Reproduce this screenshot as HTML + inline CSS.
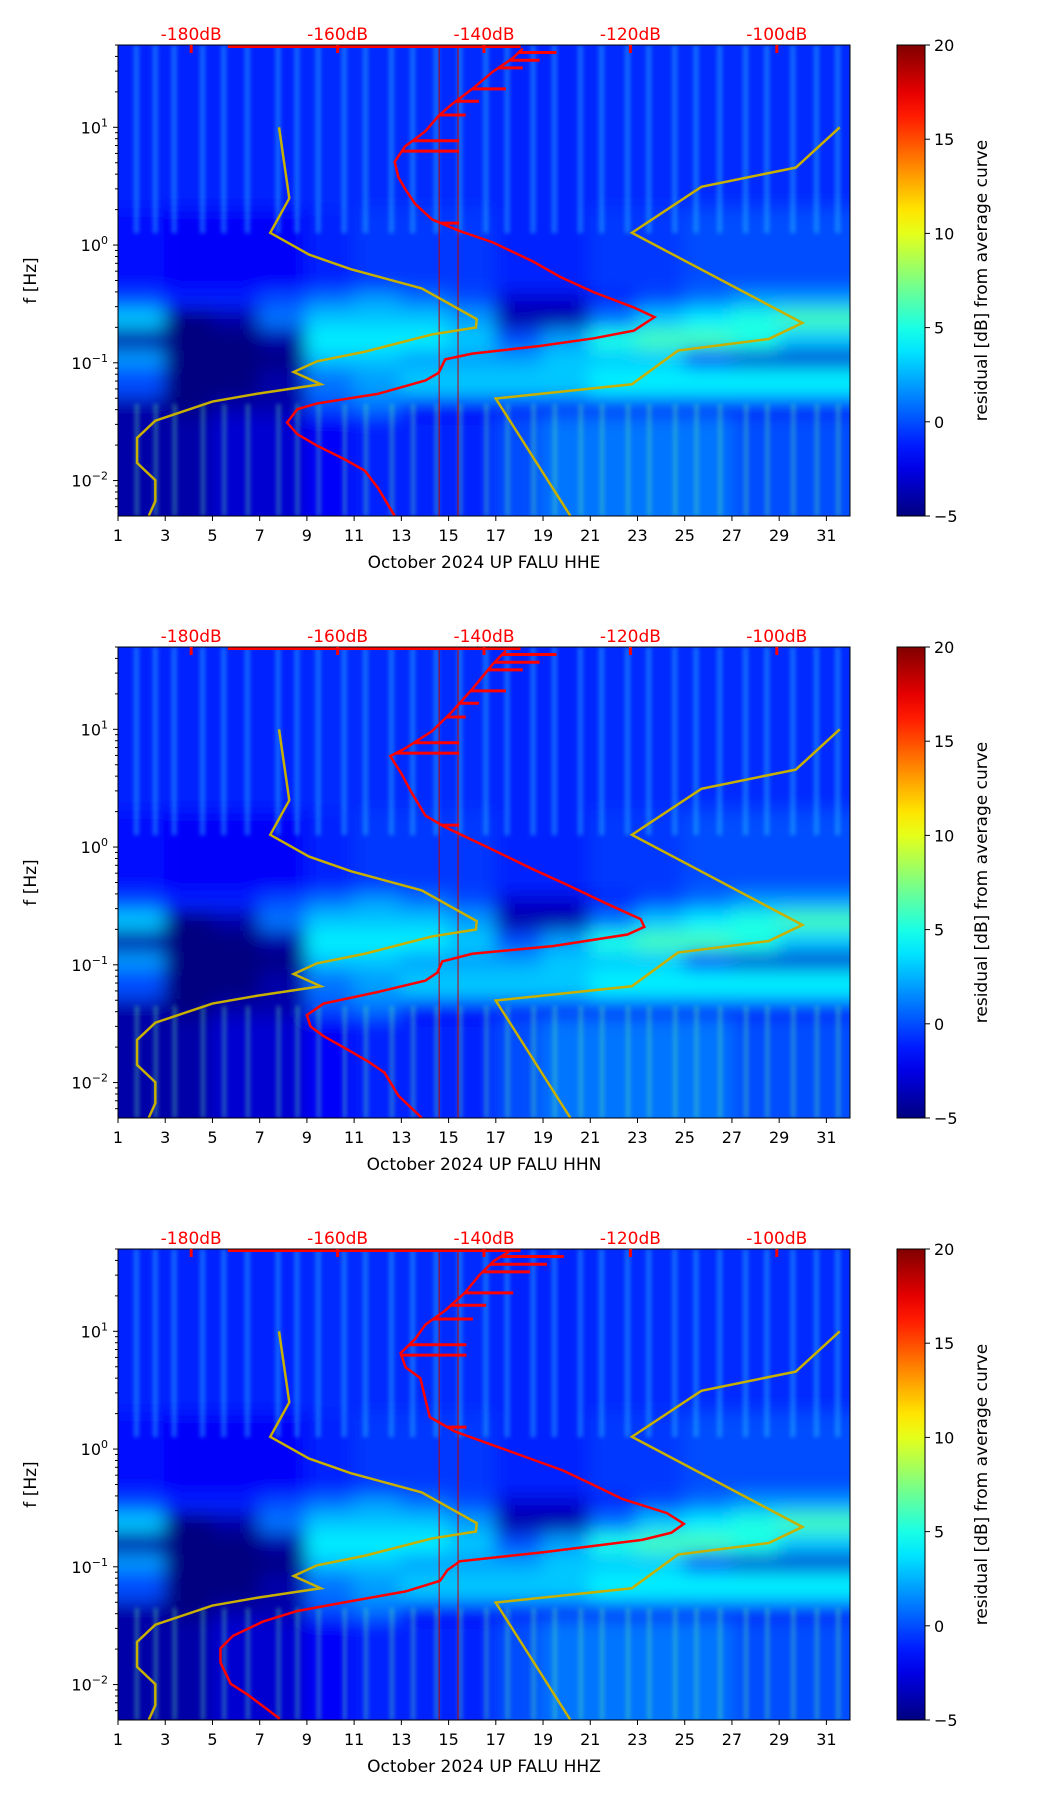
<!DOCTYPE html>
<html><head><meta charset="utf-8"><style>
html,body{margin:0;padding:0;background:#fff;}
svg text{font-family:"DejaVu Sans","Liberation Sans",sans-serif;}
</style></head><body>
<svg id="fig" xmlns="http://www.w3.org/2000/svg" width="1052" height="1806" viewBox="0 0 1052 1806">
<defs>
<filter id="blur" x="-5%" y="-5%" width="110%" height="110%"><feGaussianBlur stdDeviation="9"/></filter>
<filter id="blur2"><feGaussianBlur stdDeviation="2"/></filter>
</defs>
</svg>
<script>
// ---- data ----
const dayTicks = [1,3,5,7,9,11,13,15,17,19,21,23,25,27,29,31];
const dbTicks = [-180,-160,-140,-120,-100];
const cbTicks = [20,15,10,5,0,-5];
const channels = ["HHE","HHN","HHZ"];
const colEdges = [1,3,5,7,9,11,13,15,17,19,21,23,25,27,29,32];
const bandEdges = [1.7,0.3,-0.4,-0.55,-0.72,-0.9,-1.05,-1.3,-1.45,-2.3];
const gridVals = [
 [-1,-1,-1,-1,-0.8,-0.8,-0.8,-0.8,-1,-1,-0.8,-0.8,-0.8,-0.8,-0.8],
 [-1.5,-2,-2,-2,-1,-0.5,-0.5,-0.5,-1,-1,-0.5,-0.5,0,0,0],
 [0,-1,-1,0,1,2,1,0,-3,-3,-1,0,1,2,2],
 [3,-5,-4,1,3,3,3,2,-4,-4,1,3,4,5,6],
 [-4,-5,-5,-4,4,4,4,3,0,2,5,6,6,5,3],
 [2,-5,-5,-5,3,3,2,2,2,3,3,3,-2,-3,-3],
 [0,-5,-5,-4,1,2,3,3,3,3,4,4,4,4,4],
 [-4,-5,-4,-4,0,1,-2,-2,-2,-2,-2,-2,-2,-2,-2],
 [-4,-4,-3,-3,-2,-1,-1,-1,0,1,1,1,1,0,0]
];
const stripeDays = [1.8,2.6,3.4,4.6,5.5,6.5,7.8,8.6,9.5,10.6,11.5,12.6,13.5,14.5,15.5,16.6,17.5,18.6,19.5,20.6,21.5,22.6,23.5,24.6,25.5,26.5,27.6,28.5,29.6,30.6,31.5];
const nlnmDb = [-168.0,-166.6,-169.2,-163.9,-158.2,-148.5,-141.0,-141.1,-147.1,-156.3,-162.8,-166.0,-162.3,-171.1,-177.1,-184.9,-187.4,-187.4,-184.9,-184.9,-185.8];
const nlnmLogF = [1.0,0.397,0.104,-0.081,-0.205,-0.368,-0.629,-0.700,-0.759,-0.906,-0.987,-1.078,-1.182,-1.264,-1.329,-1.492,-1.638,-1.850,-1.997,-2.176,-2.300];
const nhnmDb = [-91.4,-97.4,-110.3,-119.8,-96.5,-101.1,-113.5,-119.8,-138.4,-128.2];
const nhnmLogF = [1.0,0.658,0.495,0.104,-0.661,-0.798,-0.896,-1.182,-1.303,-2.300];
const red1Db = [-134.7,-136.1,-138.8,-141.6,-144.4,-146.2,-148.0,-150.8,-152.2,-151.7,-150.8,-149.4,-147.1,-143.4,-138.8,-133.3,-129.6,-125.0,-119.5,-116.7,-119.5,-125.0,-132.4,-141.6,-145.3,-146.2,-148.0,-154.5,-162.8,-165.5,-166.9,-165.5,-162.8,-159.1,-156.3,-154.5,-152.2];
const red1LogF = [1.668,1.586,1.472,1.326,1.195,1.098,0.967,0.837,0.707,0.577,0.479,0.349,0.218,0.121,0.023,-0.140,-0.270,-0.401,-0.531,-0.612,-0.726,-0.792,-0.857,-0.922,-0.971,-1.085,-1.150,-1.264,-1.345,-1.394,-1.508,-1.606,-1.704,-1.818,-1.915,-2.062,-2.300];
const red2Db = [-137.0,-138.8,-141.6,-144.4,-147.1,-150.8,-152.8,-151.3,-149.9,-148.0,-145.3,-139.8,-133.3,-128.7,-123.2,-118.6,-118.1,-120.4,-130.5,-141.6,-145.7,-146.4,-148.0,-154.5,-161.9,-164.2,-163.7,-161.9,-159.1,-155.9,-153.6,-151.7,-148.5];
const red2LogF = [1.668,1.554,1.342,1.147,0.984,0.837,0.772,0.625,0.463,0.267,0.169,0.007,-0.189,-0.319,-0.482,-0.612,-0.678,-0.743,-0.840,-0.906,-0.971,-1.068,-1.134,-1.231,-1.329,-1.427,-1.524,-1.606,-1.704,-1.818,-1.915,-2.111,-2.300];
const red3Db = [-136.6,-138.6,-140.6,-142.6,-145.3,-148.0,-149.4,-151.4,-150.7,-148.7,-148.0,-147.4,-144.0,-138.6,-134.6,-129.2,-125.1,-121.1,-115.0,-112.7,-114.4,-118.4,-131.9,-143.3,-145.0,-146.0,-150.7,-158.8,-165.5,-170.2,-174.3,-176.0,-176.0,-174.6,-172.3,-167.9];
const red3LogF = [1.675,1.600,1.480,1.328,1.177,1.057,0.935,0.814,0.694,0.603,0.422,0.271,0.150,0.029,-0.061,-0.182,-0.303,-0.424,-0.544,-0.635,-0.710,-0.771,-0.876,-0.953,-1.028,-1.119,-1.209,-1.299,-1.375,-1.465,-1.587,-1.693,-1.813,-1.994,-2.085,-2.290];
const spikeLogF = [1.635,1.570,1.505,1.326,1.221,1.104,0.886,0.798,0.186];
const spikeEndDb = [-130.1,-132.4,-134.7,-137.0,-140.7,-142.5,-143.4,-143.4,-143.4];
const reds = [[red1Db,red1LogF],[red2Db,red2LogF],[red3Db,red3LogF]];

// ---- layout ----
const NS="http://www.w3.org/2000/svg";
const svg=document.getElementById('fig');
const L=118,R=850,H=471,tops=[45,647,1249];
const dayMin=1,dayMax=32,fMin=-2.301,fMax=1.699,dbMin=-190,dbMax=-90;
const xDay=d=>L+(d-dayMin)/(dayMax-dayMin)*(R-L);
const xDb=v=>L+(v-dbMin)/(dbMax-dbMin)*(R-L);
function yF(top,lf){return top+(fMax-lf)/(fMax-fMin)*H;}
function jet(v){const t=Math.max(0,Math.min(1,(v+5)/25));const c=x=>Math.round(255*Math.max(0,Math.min(1,1.5-Math.abs(x))));return `rgb(${c(4*t-3)},${c(4*t-2)},${c(4*t-1)})`;}
function el(tag,attrs,parent){const e=document.createElementNS(NS,tag);for(const k in attrs)e.setAttribute(k,attrs[k]);(parent||svg).appendChild(e);return e;}
function txt(x,y,s,attrs,parent){const t=el('text',Object.assign({x:x,y:y},attrs),parent);t.textContent=s;return t;}

const defs=svg.querySelector('defs');
const lg=el('linearGradient',{id:'jetg',x1:0,y1:1,x2:0,y2:0},defs);
for(let i=0;i<=20;i++){el('stop',{offset:i/20,'stop-color':jet(-5+25*i/20)},lg);}

tops.forEach((top,p)=>{
  const g=el('g',{});
  
  
  const cp=el('clipPath',{id:'cp'+p},defs);
  el('rect',{x:L,y:top,width:R-L,height:H},cp);
  const hm=el('g',{'clip-path':`url(#cp${p})`},g);
  
  
  el('rect',{x:L,y:top,width:R-L,height:H,fill:jet(-1)},hm);
  const blurG=el('g',{filter:'url(#blur)'},hm);
  for(let b=0;b<gridVals.length;b++){
    for(let c=0;c<colEdges.length-1;c++){
      const y0=yF(top,bandEdges[b]),y1=yF(top,bandEdges[b+1]);
      const x0=xDay(colEdges[c]),x1=xDay(colEdges[c+1]);
      const ex0=c===0?-20:-1, ex1=c===colEdges.length-2?20:1;
      const ey0=b===0?-20:-1, ey1=b===gridVals.length-1?20:1;
      const r=el('rect',{x:x0+ex0,y:y0+ey0,width:x1-x0+ex1-ex0,height:y1-y0+ey1-ey0,fill:jet(gridVals[b][c])},blurG);
      
      
    }
  }
  const sg=el('g',{filter:'url(#blur2)',opacity:0.4},hm);
  stripeDays.forEach(d=>{
    const s1=el('rect',{x:xDay(d)-3,y:top,width:5,height:yF(top,0.1)-top,fill:'#30d8ff'},sg);
    
    
    const s2=el('rect',{x:xDay(d)-2,y:yF(top,-1.35),width:4,height:top+H-yF(top,-1.35),fill:'#60f0a0'},sg);
    
    
  });
  [14.6,15.4].forEach(d=>{el('line',{x1:xDay(d),x2:xDay(d),y1:top,y2:top+H,stroke:'#c00000','stroke-width':1},hm);});
  const ptsA=nlnmDb.map((v,i)=>xDb(v)+','+yF(top,nlnmLogF[i])).join(' ');
  const nl=el('polyline',{points:ptsA,fill:'none',stroke:'#c8b000','stroke-width':2.5},hm);
  
  
  const ptsB=nhnmDb.map((v,i)=>xDb(v)+','+yF(top,nhnmLogF[i])).join(' ');
  const nh=el('polyline',{points:ptsB,fill:'none',stroke:'#c8b000','stroke-width':2.5},hm);
  
  
  const [rd,rf]=reds[p];
  const rc=el('polyline',{points:rd.map((v,i)=>xDb(v)+','+yF(top,rf[i])).join(' '),fill:'none',stroke:'#ff0000','stroke-width':2.5},hm);
  
  
  spikeLogF.forEach((lf,i)=>{
    let k=0;for(let j=0;j<rf.length-1;j++){if(rf[j]>=lf&&rf[j+1]<=lf){k=j;break;}}
    const t=(rf[k]-lf)/((rf[k]-rf[k+1])||1);const xs=rd[k]+t*(rd[k+1]-rd[k]);
    const sp=el('line',{x1:xDb(xs),x2:xDb(spikeEndDb[i]+(p===2?1:0)),y1:yF(top,lf),y2:yF(top,lf),stroke:'#ff0000','stroke-width':3},hm);
    
    
  });
  el('line',{x1:xDb(-175),x2:xDb(-135),y1:top+1.5,y2:top+1.5,stroke:'#ff0000','stroke-width':3},hm);
  el('rect',{x:L,y:top,width:R-L,height:H,fill:'none',stroke:'#000','stroke-width':1},g);
  dbTicks.forEach(v=>{
    el('line',{x1:xDb(v),x2:xDb(v),y1:top,y2:top+8,stroke:'#ff0000','stroke-width':3},g);
    const t=txt(xDb(v),top-5,v+'dB',{'font-size':17,fill:'#ff0000','text-anchor':'middle'},g);
    
    
  });
  dayTicks.forEach(d=>{
    el('line',{x1:xDay(d),x2:xDay(d),y1:top+H,y2:top+H+5,stroke:'#000'},g);
    const t=txt(xDay(d),top+H+25,String(d),{'font-size':16,'text-anchor':'middle'},g);
    
    
  });
  const xt=txt((L+R)/2,top+H+52,'October 2024 UP FALU  '+channels[p],{'font-size':17,'text-anchor':'middle','xml:space':'preserve'},g);
  
  
  for(let e=-3;e<=1;e++){
    for(let m=1;m<10;m++){
      const lf=e+Math.log10(m); if(lf<fMin||lf>fMax)continue;
      el('line',{x1:L,x2:L-(m===1?5:3),y1:yF(top,lf),y2:yF(top,lf),stroke:'#000'},g);
    }
    if(e>=-2){
      const t=txt(L-10,yF(top,e)+6,'10',{'font-size':16,'text-anchor':'end'},g);
      const ts=el('tspan',{dy:-7,'font-size':11},t);ts.textContent=e<0?'\u2212'+(-e):String(e);
      
      
    }
  }
  const yl=txt(0,0,'f [Hz]',{'font-size':17,'text-anchor':'middle',transform:`translate(36,${top+H/2}) rotate(-90)`},g);
  
  
  const cb=el('rect',{x:897,y:top,width:28,height:H,fill:'url(#jetg)',stroke:'#000','stroke-width':1},g);
  
  
  cbTicks.forEach(v=>{
    const y=top+(20-v)/25*H;
    el('line',{x1:925,x2:930,y1:y,y2:y,stroke:'#000'},g);
    const t=txt(934,y+6,v<0?'\u2212'+(-v):String(v),{'font-size':16},g);
    
    
  });
  const cl=txt(0,0,'residual [dB] from average curve',{'font-size':17,'text-anchor':'middle',transform:`translate(987,${top+H/2}) rotate(-90)`},g);
  
  
});
</script>
</body></html>
